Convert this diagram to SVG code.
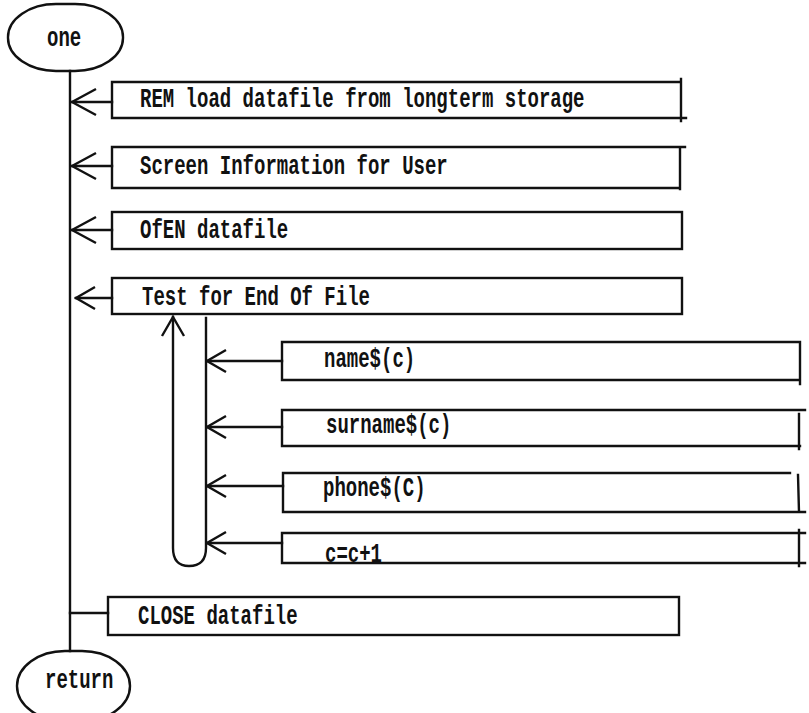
<svg xmlns="http://www.w3.org/2000/svg" width="809" height="713" viewBox="0 0 809 713">
  <style>
    .ln { fill: none; stroke: #111; stroke-width: 2.4; stroke-linecap: square; stroke-linejoin: miter; }
    .tx { font-family: "Liberation Mono", "DejaVu Sans Mono", monospace; font-weight: bold; font-size: 19px; fill: #111; }
  </style>
  <defs>
    <!-- open chevron heads; arms trail behind the tip -->
    <marker id="chev" markerUnits="userSpaceOnUse" markerWidth="30" markerHeight="30" viewBox="-28 -15 30 30" refX="0" refY="0" orient="auto">
      <path d="M-24,-13 L0,0 L-24,13" fill="none" stroke="#111" stroke-width="2.4"/>
    </marker>
    <marker id="chevs" markerUnits="userSpaceOnUse" markerWidth="26" markerHeight="26" viewBox="-24 -13 26 26" refX="0" refY="0" orient="auto">
      <path d="M-19,-11 L0,0 L-19,11" fill="none" stroke="#111" stroke-width="2.4"/>
    </marker>
  </defs>
  <rect width="809" height="713" fill="#fff"/>

  <!-- flow lines -->
  <g id="connectors">
    <path class="ln" d="M70,71 L70,651"/>
    <path class="ln" d="M112,102 L72,102" marker-end="url(#chev)"/>
    <path class="ln" d="M112,166 L72,166" marker-end="url(#chev)"/>
    <path class="ln" d="M112,230 L72,230" marker-end="url(#chev)"/>
    <path class="ln" d="M112,298 L76,298" marker-end="url(#chevs)"/>
    <path class="ln" d="M282,361 L207,361" marker-end="url(#chevs)"/>
    <path class="ln" d="M282,427 L207,427" marker-end="url(#chevs)"/>
    <path class="ln" d="M283,486 L207,486" marker-end="url(#chevs)"/>
    <path class="ln" d="M282,543 L207,543" marker-end="url(#chevs)"/>
    <path class="ln" d="M108,613 L70,613"/>
    <!-- repeat loop -->
    <path class="ln" d="M206,318 L206,548 Q206,566 189,566 Q173,566 173,548 L173,317" marker-end="url(#chevs)"/>
  </g>

  <g id="start">
    <rect class="ln" x="8" y="4" width="115" height="67" rx="48" ry="33"/>
    <text class="tx" transform="translate(47,46) scale(1,1.45)">one</text>
  </g>

  <g id="rem">
    <path class="ln" d="M112,82 L681,82 M112,82 L112,118 L686,118 M681,79 L681,121"/>
    <text class="tx" transform="translate(140,107) scale(1,1.45)">REM load datafile from longterm storage</text>
  </g>

  <g id="screen">
    <path class="ln" d="M112,147 L685,147 M112,147 L112,188 L680,188 M680,147 L680,189"/>
    <text class="tx" transform="translate(140,174) scale(1,1.45)">Screen Information for User</text>
  </g>

  <g id="open">
    <rect class="ln" x="112" y="212" width="570" height="37"/>
    <text class="tx" transform="translate(140,238) scale(1,1.45)">OfEN datafile</text>
  </g>

  <g id="eof">
    <rect class="ln" x="112" y="278" width="570" height="36"/>
    <text class="tx" transform="translate(142,305) scale(1,1.45)">Test for End Of File</text>
  </g>

  <g id="name">
    <path class="ln" d="M282,342 L800,342 M282,342 L282,380 L800,380 M800,342 L800,384"/>
    <text class="tx" transform="translate(324,367) scale(1,1.45)">name$(c)</text>
  </g>

  <g id="surname">
    <path class="ln" d="M282,410 L805,410 M282,410 L282,446 L800,446 M799,414 L799,449"/>
    <text class="tx" transform="translate(326,433) scale(1,1.45)">surname$(c)</text>
  </g>

  <g id="phone">
    <path class="ln" d="M283,473 L790,473 M283,473 L283,512 L805,512 M798,475 L799,512"/>
    <text class="tx" transform="translate(323,496) scale(1,1.45)">phone$(C)</text>
  </g>

  <g id="count">
    <path class="ln" d="M282,533 L805,533 M282,533 L282,563 L805,563 M799,530 L799,566"/>
    <text class="tx" transform="translate(325,562) scale(1,1.45)">c=c+1</text>
  </g>

  <g id="close">
    <rect class="ln" x="108" y="597" width="571" height="38"/>
    <text class="tx" transform="translate(138,624) scale(1,1.45)">CLOSE datafile</text>
  </g>

  <g id="end">
    <rect class="ln" x="17" y="651" width="113" height="70" rx="48" ry="35"/>
    <text class="tx" transform="translate(45,688) scale(1,1.45)">return</text>
  </g>
</svg>
